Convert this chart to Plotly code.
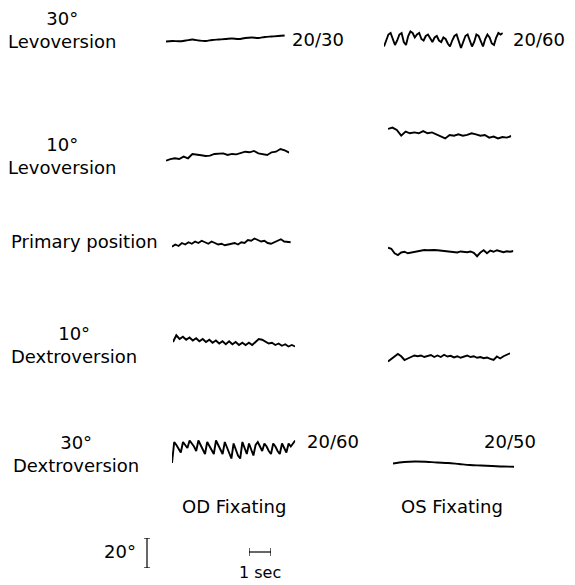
import numpy as np
import plotly.graph_objects as go

# ---------------- data (eye position in degrees, up = positive) ----------------
ROW_LABELS = ["30°<br>Levoversion", "10°<br>Levoversion", "Primary position",
              "10°<br>Dextroversion", "30°<br>Dextroversion"]
COL_LABELS = ["OD Fixating", "OS Fixating"]
ACUITY = {("OD", 0): "20/30", ("OS", 0): "20/60", ("OD", 4): "20/60", ("OS", 4): "20/50"}

# sample step (sec) for each recording
DT = {"lev30_od": 0.3, "lev30_os": 0.1, "lev10_od": 0.2, "lev10_os": 0.2,
      "prim_od": 0.15, "prim_os": 0.15, "dex10_od": 0.15, "dex10_os": 0.15,
      "dex30_od": 0.1, "dex30_os": 0.5}

lev30_od = [-0.3, 0, -0.2, 0.3, 1.0, 0.3, 0, 0.7, 1.0, 1.3, 1.7, 1.3, 2.0, 2.3, 2.0, 2.7,
            3.0, 3.3, 3.7]
lev30_os = [-5, -1, 3, 4, 0, -4, -1, 3, 4, -2, -4, 2, 5, 4, 1, 3, 4, 0, -1, 2, 3, 0, -2, 1,
            2, -1, -2, 1, 0, -3, -5, -1, 2, 3, -2, -6, -2, 2, 3, -1, -5, -2, 3, 2, -2, -5,
            0, 3, 1, -3, -4, 1, 4, 3, 4]
lev10_od = [-3.8, -2.7, -2.2, -2.7, -1.1, -2.2, 0.7, 0, -0.2, -0.7, -0.4, 0.7, 0.9, 1.1,
            0, 0.7, 0.4, 1.1, 2.2, 1.8, 2.7, 1.1, 0.4, 0, 1.8, 2.2, 4.0, 3.1, 1.6]
lev10_os = [2.7, 3.6, 2.0, -1.8, 0.9, -0.2, 0.4, -0.2, 1.3, -0.2, 0.4, -0.9, -1.8, -3.6,
            -1.3, -1.8, -0.9, -1.8, -1.3, -0.2, -0.9, -1.8, -1.3, -3.1, -2.4, -3.6, -2.7,
            -3.1, -2.0]
prim_od = [-2.5, -1, -2, 0, -1, 0.5, -0.5, 1, 0, 1.5, 0.5, -0.5, 1, 0, -1, -0.5, -1.5, -1,
           -0.5, 0, -1, 0.5, 0, 2, 1.5, 3, 2, 1, 1.5, 0, -0.5, 0.5, 1.5, 2.5, 1, 0.5, 0.5]
prim_os = [2.2, 1.5, -1.5, -2.7, -1, -0.5, -1.5, -1, -0.5, 0, 0.3, 0.7, 0.5, 0.8, 0.7, 0.5,
           0.3, -0.3, -0.5, -0.3, -0.5, -1.0, -0.3, -0.5, -0.8, -0.3, -1.2, -3.5, -1.0, 0.5,
           -1.5, 0.3, -0.5, 0.5, -0.3, -0.8, -0.2, -0.5, 0]
dex10_od = [0, 4.5, 2, 3.5, 1.5, 3, 1, 2.5, 0.5, 2, 0, 1.5, -0.5, 1, -1, 0.5, -1.5, 0.5,
            -1.5, 0, -2, -0.5, -2, -0.5, -2, 0, 2, 1.5, 0.5, -1, -0.5, -2, -1, -2.5, -1.5,
            -3, -2, -3]
dex10_os = [-3, -1.5, 0.5, 2, 0.5, -2, -1, 0, 1, 0.5, 1, 0, 0.7, 1.3, 0, 1, 0, 1.5, 0.3,
            0.8, -0.3, 0.5, -0.5, 0.3, 1, 0, 0.5, -0.5, 0, -0.8, -0.3, -1.2, -2, 0.3, -1,
            0.5, 1.5, 2.5]
dex30_od = [-10, 4, 2, -1, -3, 4, 2, 0, 5, 3, 1, -2, 5, 2, -1, -4, 4, 1, -2, -4, 5, 2, -1,
            -4, 4, 0, -4, -7, 3, -1, -5, -7, 4, 0, -4, 3, -1, -5, 2, 4, 1, -2, 3, 1, -2, -4,
            3, 1, -2, -4, 3, 0, -3, 3, 1, 3, 5]
dex30_os = [0.3, 1.3, 1.7, 1.5, 1.0, 0.7, 0, -0.7, -1.0, -1.3, -1.7, -1.8]

SCALE_DEG = [0, 20]   # calibration bar, degrees
SCALE_SEC = [0, 1]    # calibration bar, seconds

# ---------------- layout (pixel placement) ----------------
W, H = 575, 585
PX_PER_SEC = 22.0
PX_PER_DEG = 1.5
BAND = 60  # px height of each trace band

# name -> (left px, baseline px from top)
PLACE = {
    "lev30_od": (166, 41), "lev30_os": (384, 39),
    "lev10_od": (166, 155), "lev10_os": (388, 133),
    "prim_od": (172, 243), "prim_os": (388, 251),
    "dex10_od": (173, 342), "dex10_os": (388, 357),
    "dex30_od": (172, 448), "dex30_os": (393, 464),
}
SERIES = {"lev30_od": lev30_od, "lev30_os": lev30_os, "lev10_od": lev10_od,
          "lev10_os": lev10_os, "prim_od": prim_od, "prim_os": prim_os,
          "dex10_od": dex10_od, "dex10_os": dex10_os, "dex30_od": dex30_od,
          "dex30_os": dex30_os}
SMOOTH = {"lev30_od", "dex30_os"}

fig = go.Figure()
layout_axes = {}
hidden = dict(visible=False, fixedrange=True, showgrid=False, zeroline=False)

i = 0
for name, vals in SERIES.items():
    i += 1
    dt = DT[name]
    t = np.arange(len(vals)) * dt
    T = t[-1]
    x0, yb = PLACE[name]
    xd = [x0 / W, (x0 + T * PX_PER_SEC) / W]
    half_deg = BAND / 2 / PX_PER_DEG
    yd = [(H - yb - BAND / 2) / H, (H - yb + BAND / 2) / H]
    sfx = "" if i == 1 else str(i)
    layout_axes["xaxis" + sfx] = dict(domain=xd, range=[0, T], anchor="y" + sfx, **hidden)
    layout_axes["yaxis" + sfx] = dict(domain=yd, range=[-half_deg, half_deg],
                                      anchor="x" + sfx, **hidden)
    fig.add_trace(go.Scatter(
        x=t, y=vals, mode="lines", xaxis="x" + sfx, yaxis="y" + sfx,
        line=dict(color="#000000", width=1.9,
                  shape="spline" if name in SMOOTH else "linear"),
        hoverinfo="skip", showlegend=False))

# vertical calibration bar (20 deg)
i += 1
s = str(i)
layout_axes["xaxis" + s] = dict(domain=[144 / W, 150 / W], range=[-1, 1], anchor="y" + s, **hidden)
layout_axes["yaxis" + s] = dict(domain=[(H - 568) / H, (H - 568 + 20 * PX_PER_DEG) / H],
                                range=[0, 20], anchor="x" + s, **hidden)
fig.add_trace(go.Scatter(
    x=[0, 0], y=SCALE_DEG, mode="lines+markers", xaxis="x" + s, yaxis="y" + s,
    line=dict(color="#000", width=1.2),
    marker=dict(symbol="line-ew", size=6, line=dict(color="#000", width=1.2)),
    hoverinfo="skip", showlegend=False))

# horizontal calibration bar (1 sec)
i += 1
s = str(i)
layout_axes["xaxis" + s] = dict(domain=[249 / W, (249 + PX_PER_SEC) / W], range=[0, 1],
                                anchor="y" + s, **hidden)
layout_axes["yaxis" + s] = dict(domain=[(H - 556) / H, (H - 548) / H], range=[-1, 1],
                                anchor="x" + s, **hidden)
fig.add_trace(go.Scatter(
    x=SCALE_SEC, y=[0, 0], mode="lines+markers", xaxis="x" + s, yaxis="y" + s,
    line=dict(color="#000", width=1.2),
    marker=dict(symbol="line-ns", size=6, line=dict(color="#000", width=1.2)),
    hoverinfo="skip", showlegend=False))

FONT = dict(family="'DejaVu Sans', sans-serif", size=18, color="#000")


def txt(x, y, s, size=18):
    f = dict(FONT, size=size)
    return dict(x=x / W, y=1 - y / H, xref="paper", yref="paper", text=s,
                showarrow=False, xanchor="center", yanchor="middle", align="center", font=f)


anns = [
    txt(62, 30, ROW_LABELS[0]),
    txt(62, 156, ROW_LABELS[1]),
    txt(84, 241, ROW_LABELS[2]),
    txt(74, 345, ROW_LABELS[3]),
    txt(76, 454, ROW_LABELS[4]),
    txt(234, 506, COL_LABELS[0]),
    txt(452, 506, COL_LABELS[1]),
    txt(318, 40, ACUITY[("OD", 0)]),
    txt(539, 40, ACUITY[("OS", 0)]),
    txt(333, 441, ACUITY[("OD", 4)]),
    txt(510, 441, ACUITY[("OS", 4)]),
    txt(120, 551, "20°"),
    txt(260, 572, "1 sec", size=16),
]

fig.update_layout(
    width=W, height=H, margin=dict(l=0, r=0, t=0, b=0),
    paper_bgcolor="white", plot_bgcolor="white",
    showlegend=False, annotations=anns, **layout_axes)

fig.write_html("out.html", config={"displayModeBar": False},
               post_script="document.body.style.margin='0';document.body.style.padding='0';")
